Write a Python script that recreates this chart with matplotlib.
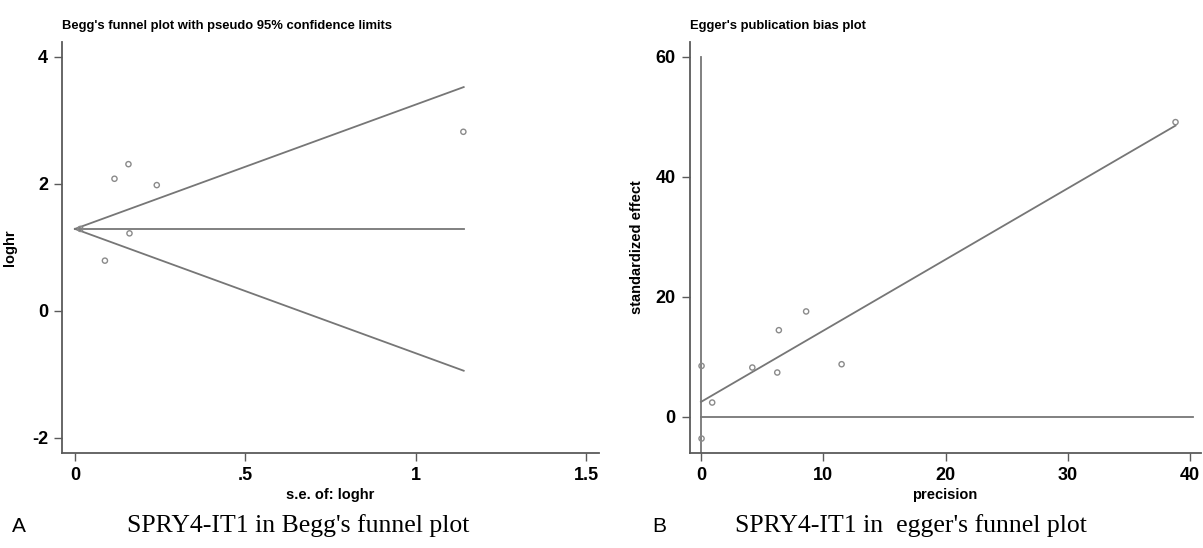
import matplotlib.pyplot as plt
import numpy as np

# Begg's funnel plot data (s.e. of loghr, loghr)
begg_se = [0.016, 0.088, 0.116, 0.157, 0.160, 0.240, 1.139]
begg_loghr = [1.29, 0.79, 2.08, 2.31, 1.22, 1.98, 2.82]
pooled = 1.29
funnel_se_max = 1.14

begg_xticks = [0, 0.5, 1, 1.5]
begg_xticklabels = ['0', '.5', '1', '1.5']
begg_yticks = [-2, 0, 2, 4]
begg_yticklabels = ['-2', '0', '2', '4']

# Egger's publication bias plot data (precision, standardized effect)
egger_prec = [0.05, 0.05, 0.92, 4.2, 6.24, 6.37, 8.6, 11.5, 38.8]
egger_eff = [8.5, -3.6, 2.4, 8.23, 7.4, 14.45, 17.57, 8.78, 49.1]
egger_intercept = 2.5
egger_slope = 1.186
egger_ci = [-6, 60]

egger_xticks = [0, 10, 20, 30, 40]
egger_yticks = [0, 20, 40, 60]

fam = ['Liberation Sans', 'DejaVu Sans']
serif = ['Liberation Serif', 'DejaVu Serif']
line_col = '#767676'
spine_col = '#5a5a5a'
mk_col = '#8a8a8a'

fig = plt.figure(figsize=(12.03, 5.48), dpi=100, facecolor='w')
ax1 = fig.add_axes([0.0515, 0.1734, 0.4465, 0.7506])
ax2 = fig.add_axes([0.5732, 0.1734, 0.4248, 0.7506])

for ax in (ax1, ax2):
    for s in ('top', 'right'):
        ax.spines[s].set_visible(False)
    for s in ('left', 'bottom'):
        ax.spines[s].set_color(spine_col)
        ax.spines[s].set_linewidth(1.3)
    ax.tick_params(direction='out', length=6, width=1, color=spine_col,
                   labelsize=13, pad=4)

# --- Begg's funnel plot ---
se_line = np.array([0, funnel_se_max])
ax1.plot(se_line, pooled + 1.96 * se_line, color=line_col, lw=1.3)
ax1.plot(se_line, pooled - 1.96 * se_line, color=line_col, lw=1.3)
ax1.plot(se_line, [pooled, pooled], color=line_col, lw=1.3)
ax1.scatter(begg_se, begg_loghr, s=14, facecolors='none',
            edgecolors=mk_col, linewidths=1.0, zorder=3)
ax1.set_xlim(-0.038, 1.537)
ax1.set_ylim(-2.24, 4.24)
ax1.set_xticks(begg_xticks)
ax1.set_xticklabels(begg_xticklabels, family=fam, fontweight='bold')
ax1.set_yticks(begg_yticks)
ax1.set_yticklabels(begg_yticklabels, family=fam, fontweight='bold')
ax1.set_xlabel('s.e. of: loghr', family=fam, fontweight='bold', fontsize=10.5)
ax1.set_ylabel('loghr', family=fam, fontweight='bold', fontsize=10.5)
ax1.xaxis.set_label_coords(0.5, -0.085)
ax1.yaxis.set_label_coords(-0.084, 0.5)
ax1.set_title("Begg's funnel plot with pseudo 95% confidence limits",
              family=fam, fontweight='bold', fontsize=9.4, loc='left',
              pad=9)

# --- Egger's publication bias plot ---
px = np.array([0, egger_prec[-1]])
ax2.plot(px, egger_intercept + egger_slope * px, color=line_col, lw=1.3)
ax2.plot([0, 40.2], [0, 0], color=line_col, lw=1.3)
ax2.plot([0, 0], egger_ci, color=line_col, lw=1.3)
ax2.scatter(egger_prec, egger_eff, s=14, facecolors='none',
            edgecolors=mk_col, linewidths=1.0, zorder=3)
ax2.set_xlim(-0.93, 40.85)
ax2.set_ylim(-6, 62.5)
ax2.set_xticks(egger_xticks)
ax2.set_xticklabels([str(t) for t in egger_xticks], family=fam,
                    fontweight='bold')
ax2.set_yticks(egger_yticks)
ax2.set_yticklabels([str(t) for t in egger_yticks], family=fam,
                    fontweight='bold')
ax2.set_xlabel('precision', family=fam, fontweight='bold', fontsize=10.5)
ax2.set_ylabel('standardized effect', family=fam, fontweight='bold',
               fontsize=10.5)
ax2.xaxis.set_label_coords(0.5, -0.085)
ax2.yaxis.set_label_coords(-0.089, 0.5)
ax2.set_title("Egger's publication bias plot", family=fam,
              fontweight='bold', fontsize=9.4, loc='left', pad=9)

# captions
fig.text(12 / 1203, 1 - 526 / 548, 'A', family=fam, fontsize=15,
         va='center')
fig.text(127 / 1203, 1 - 526 / 548, "SPRY4-IT1 in Begg's funnel plot",
         family=serif, fontsize=18.5, va='center')
fig.text(652 / 1203, 1 - 526 / 548, 'B', family=fam, fontsize=15,
         va='center')
fig.text(735 / 1203, 1 - 526 / 548, "SPRY4-IT1 in  egger's funnel plot",
         family=serif, fontsize=18.5, va='center')

fig.savefig('out.png', dpi=100, facecolor='w')
